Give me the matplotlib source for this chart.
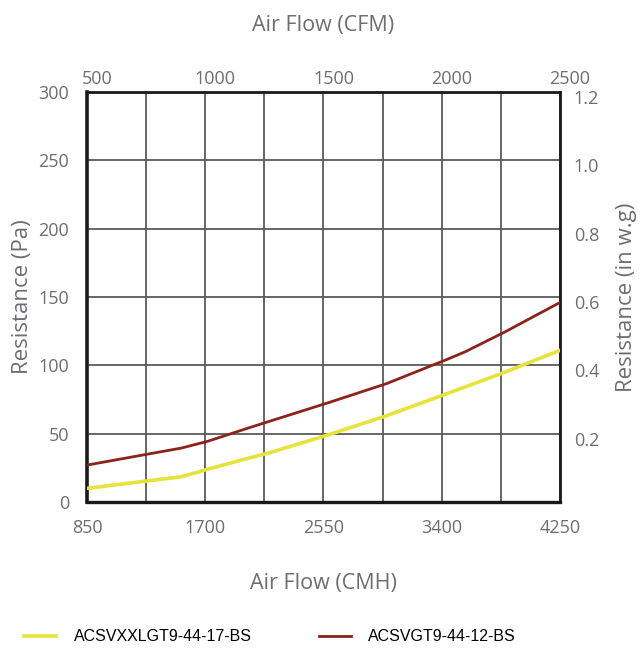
import matplotlib
matplotlib.use("Agg")
import matplotlib.pyplot as plt
from matplotlib.transforms import offset_copy

# Air flow (CMH) and resistance (Pa)
flow_xxl = [850, 1530, 1720, 1990, 2160, 2580, 3000, 3430, 3855, 4250]
res_xxl = [10, 18.5, 24, 31.5, 36, 49, 63, 79, 95, 111]

flow_vgt = [850, 1530, 1720, 1990, 2160, 2580, 3000, 3430, 3570, 3855, 4250]
res_vgt = [27, 39.5, 44.5, 53.5, 59, 72.5, 86.5, 104, 110, 124.5, 146]

label_xxl = "ACSVXXLGT9-44-17-BS"
label_vgt = "ACSVGT9-44-12-BS"

cmh_ticks = [850, 1700, 2550, 3400, 4250]
cfm_ticks = [500, 1000, 1500, 2000, 2500]
pa_ticks = [0, 50, 100, 150, 200, 250, 300]
inwg_ticks = [0.2, 0.4, 0.6, 0.8, 1.0, 1.2]

text_color = "#6d6e71"
grid_color = "#5a5a5a"
font = "Open Sans"

fig = plt.figure(figsize=(6.4, 6.51), dpi=100)
ax = fig.add_axes([87 / 640, 1 - 502 / 651, 473 / 640, 410 / 651])

ax.plot(flow_xxl, res_xxl, color="#e6e33a", lw=2.6, label=label_xxl, zorder=3)
ax.plot(flow_vgt, res_vgt, color="#8b2318", lw=2.0, label=label_vgt, zorder=3)

ax.set_xlim(850, 4250)
ax.set_ylim(0, 300)
ax.set_xticks(cmh_ticks)
ax.set_xticks(range(850, 4251, 425), minor=True)
ax.set_yticks(pa_ticks)
ax.grid(True, which="both", color=grid_color, lw=1.3)
ax.set_axisbelow(True)

for side, spine in ax.spines.items():
    spine.set_color("#1a1a1a")
    spine.set_linewidth(2.0)
ax.spines["left"].set_linewidth(2.6)
ax.spines["bottom"].set_linewidth(2.4)

ax.tick_params(which="both", length=0, labelsize=13, labelcolor=text_color)
ax.tick_params(axis="x", pad=12)
ax.tick_params(axis="y", pad=13)
for lab in ax.get_xticklabels() + ax.get_yticklabels():
    lab.set_fontfamily(font)

ax.set_xlabel("Air Flow (CMH)", fontsize=15.5, color=text_color, family=font, labelpad=26)
ax.set_ylabel("Resistance (Pa)", fontsize=16, color=text_color, family=font, labelpad=4)

# top axis in CFM
top = ax.secondary_xaxis("top", functions=(lambda x: x / 1.7, lambda x: x * 1.7))
top.set_xticks(cfm_ticks)
top.tick_params(length=0, labelsize=13, labelcolor=text_color, pad=3)
for lab in top.get_xticklabels():
    lab.set_fontfamily(font)
    lab.set_transform(offset_copy(lab.get_transform(), fig=fig, x=10, y=0, units="dots"))
top.set_xlabel("Air Flow (CFM)", fontsize=15.5, color=text_color, family=font, labelpad=28)

# right axis in inches of water
right = ax.secondary_yaxis("right", functions=(lambda y: y / 250, lambda y: y * 250))
right.set_yticks(inwg_ticks)
right.set_yticklabels(["0.2", "0.4", "0.6", "0.8", "1.0", "1.2"])
right.tick_params(length=0, labelsize=13, labelcolor=text_color, pad=10)
for lab in right.get_yticklabels():
    lab.set_fontfamily(font)
    lab.set_transform(offset_copy(lab.get_transform(), fig=fig, x=0, y=-5, units="dots"))
right.set_ylabel("Resistance (in w.g)", fontsize=16, color=text_color, family=font, labelpad=12)

fig.legend(loc="lower left", bbox_to_anchor=(0.015, -0.012), ncol=2, frameon=False,
           handlelength=2.0, handletextpad=1.1, columnspacing=4.2,
           prop={"family": "Liberation Sans", "size": 11.5})

fig.savefig("out.png", dpi=100)
